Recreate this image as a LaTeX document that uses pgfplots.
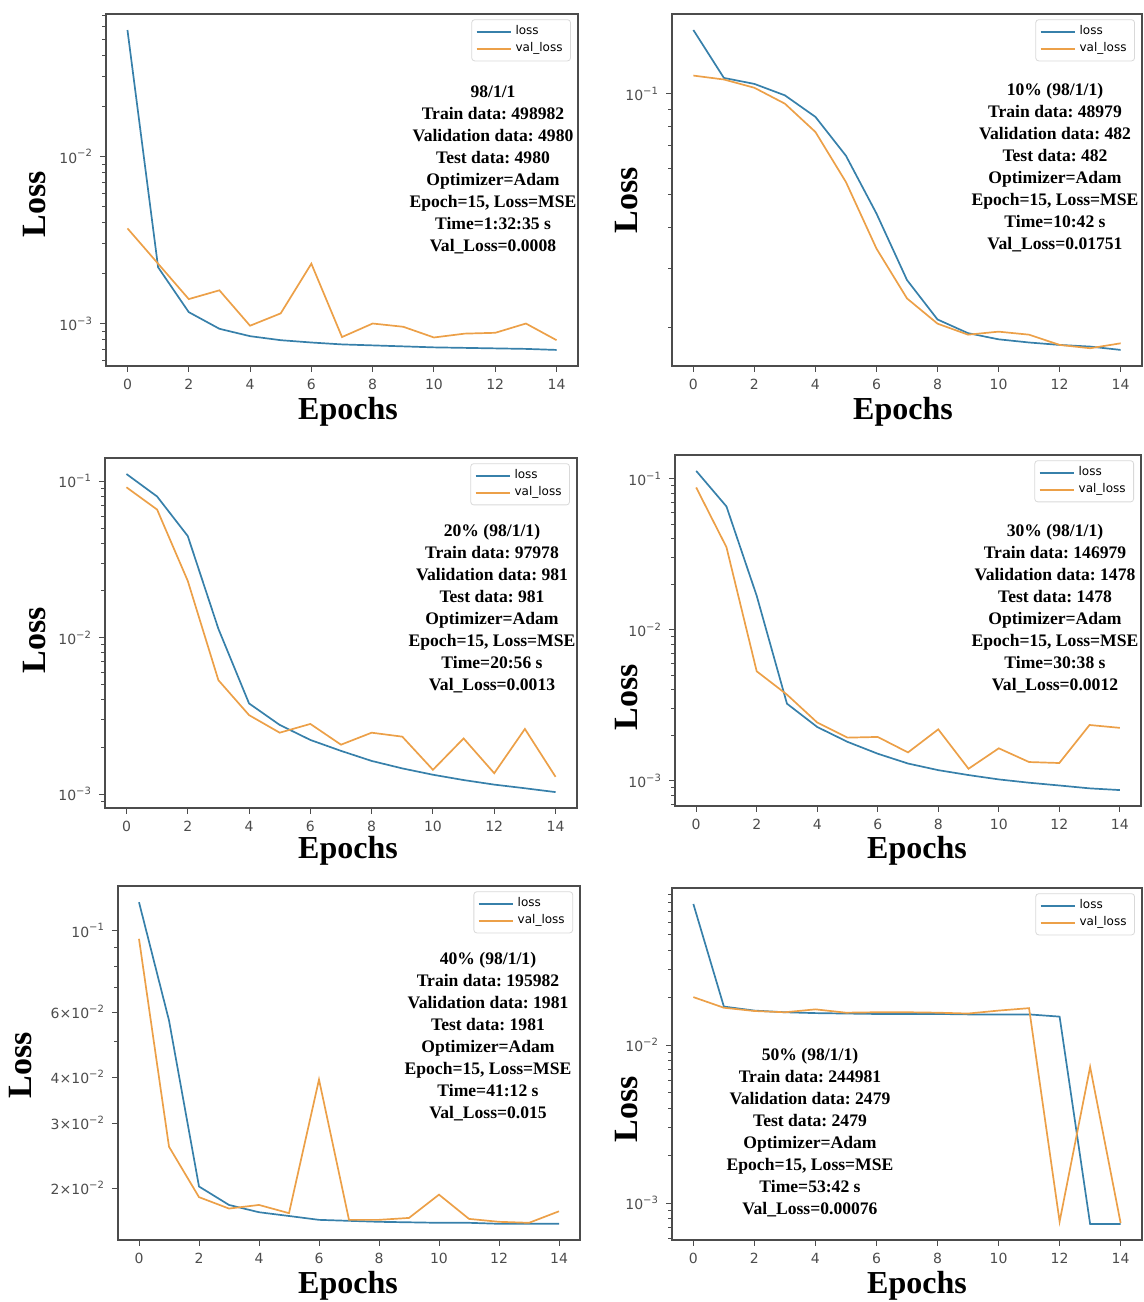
\documentclass[border=0pt]{standalone}
\usepackage{pgfplots}
\pgfplotsset{compat=1.18}
\usepackage{fontspec}
\setmainfont{Liberation Serif}
\newfontfamily\dejavu{DejaVu Sans}
\definecolor{cblue}{RGB}{55,128,170}
\definecolor{corange}{RGB}{236,160,72}
\frenchspacing

\pgfplotsset{
 lossax/.style={
   scale only axis, xmin=-0.7, xmax=14.7,
   xtick={0,2,...,14}, xticklabels={0,2,4,6,8,10,12,14},
   tick align=outside, tick pos=left,
   axis line style={black!70, line width=0.6pt},
   major tick length=3pt, minor tick length=1.8pt,
   every tick/.style={black!70, line width=0.5pt},
   tick label style={font=\dejavu\fontsize{7}{8}\selectfont, text=black!70},
   legend style={at={(0.985,0.985)}, anchor=north east, draw=black!15, rounded corners=1.5pt,
     font=\dejavu\fontsize{6}{7}\selectfont, inner xsep=2pt, inner ysep=1pt, row sep=-1.5pt,
     cells={anchor=west}},
   every axis plot/.append style={line width=0.85pt},
 },
}
\tikzset{
 anno/.style={align=center, font=\bfseries\fontsize{8.8}{11}\selectfont, inner sep=0pt},
 lab/.style={font=\bfseries\fontsize{16}{16}\selectfont, inner sep=0pt},
 ylab/.style={font=\bfseries\fontsize{17}{17}\selectfont, inner sep=0pt, rotate=90},
}

\begin{document}
\begin{tikzpicture}[x=0.5pt,y=0.5pt]
\useasboundingbox (0,0) rectangle (1144,1302);

% ---------- Panel 1 ----------
\begin{semilogyaxis}[lossax, at={(53pt,468pt)}, anchor=south west, width=236pt, height=176pt,
  ymin=5.57e-4, ymax=0.0711,
  ytick={1e-3,1e-2}, yticklabels={10\textsuperscript{−3},10\textsuperscript{−2}},
  minor ytick={6e-4,7e-4,8e-4,9e-4,2e-3,3e-3,4e-3,5e-3,6e-3,7e-3,8e-3,9e-3,2e-2,3e-2,4e-2,5e-2,6e-2,7e-2}]
\addplot[cblue, no markers] coordinates {(0,0.057)(1,0.00217)(2,0.00117)(3,0.00093)(4,0.00084)(5,0.000795)(6,0.00077)(7,0.00075)(8,0.00074)(9,0.00073)(10,0.00072)(11,0.000715)(12,0.00071)(13,0.000705)(14,0.000695)};
\addplot[corange, no markers] coordinates {(0,0.00371)(1,0.00228)(2,0.0014)(3,0.00158)(4,0.00097)(5,0.00115)(6,0.00228)(7,0.00083)(8,0.001)(9,0.000956)(10,0.000825)(11,0.00087)(12,0.00088)(13,0.001)(14,0.000795)};
\legend{loss,val\_loss}
\end{semilogyaxis}
\node[anno, anchor=north] at (493,1217) {98/1/1\\Train data: 498982\\Validation data: 4980\\Test data: 4980\\Optimizer=Adam\\Epoch=15, Loss=MSE\\Time=1:32:35 s\\Val\_Loss=0.0008};
\node[ylab] at (35,1098) {Loss};
\node[lab] at (348,890) {Epochs};

% ---------- Panel 2 ----------
\begin{semilogyaxis}[lossax, at={(336pt,468pt)}, anchor=south west, width=235pt, height=176pt,
  ymin=0.0154, ymax=0.173,
  ytick={0.1}, yticklabels={10\textsuperscript{−1}},
  minor ytick={0.02,0.03,0.04,0.05,0.06,0.07,0.08,0.09}]
\addplot[cblue, no markers] coordinates {(0,0.155)(1,0.1115)(2,0.107)(3,0.0989)(4,0.0853)(5,0.0653)(6,0.0439)(7,0.0278)(8,0.0212)(9,0.0193)(10,0.0185)(11,0.0181)(12,0.0178)(13,0.0176)(14,0.0172)};
\addplot[corange, no markers] coordinates {(0,0.1133)(1,0.1103)(2,0.1042)(3,0.0934)(4,0.0769)(5,0.0545)(6,0.0345)(7,0.0245)(8,0.0206)(9,0.0191)(10,0.0195)(11,0.0191)(12,0.0178)(13,0.0174)(14,0.018)};
\legend{loss,val\_loss}
\end{semilogyaxis}
\node[anno, anchor=north] at (1055,1219) {10\% (98/1/1)\\Train data: 48979\\Validation data: 482\\Test data: 482\\Optimizer=Adam\\Epoch=15, Loss=MSE\\Time=10:42 s\\Val\_Loss=0.01751};
\node[ylab] at (627,1102) {Loss};
\node[lab] at (903,890) {Epochs};

% ---------- Panel 3 ----------
\begin{semilogyaxis}[lossax, at={(52.5pt,247pt)}, anchor=south west, width=236pt, height=175pt,
  ymin=8.15e-4, ymax=0.141,
  ytick={1e-3,1e-2,1e-1}, yticklabels={10\textsuperscript{−3},10\textsuperscript{−2},10\textsuperscript{−1}},
  minor ytick={9e-4,2e-3,3e-3,4e-3,5e-3,6e-3,7e-3,8e-3,9e-3,2e-2,3e-2,4e-2,5e-2,6e-2,7e-2,8e-2,9e-2}]
\addplot[cblue, no markers] coordinates {(0,0.1114)(1,0.080)(2,0.0447)(3,0.0114)(4,0.0038)(5,0.00277)(6,0.00222)(7,0.00189)(8,0.00163)(9,0.00146)(10,0.00133)(11,0.00123)(12,0.00115)(13,0.00109)(14,0.00103)};
\addplot[corange, no markers] coordinates {(0,0.0916)(1,0.066)(2,0.0231)(3,0.00535)(4,0.0032)(5,0.00247)(6,0.00281)(7,0.00207)(8,0.00247)(9,0.00233)(10,0.00143)(11,0.00227)(12,0.00136)(13,0.00261)(14,0.00129)};
\legend{loss,val\_loss}
\end{semilogyaxis}
\node[anno, anchor=north] at (492,778) {20\% (98/1/1)\\Train data: 97978\\Validation data: 981\\Test data: 981\\Optimizer=Adam\\Epoch=15, Loss=MSE\\Time=20:56 s\\Val\_Loss=0.0013};
\node[ylab] at (35,662) {Loss};
\node[lab] at (348,451) {Epochs};

% ---------- Panel 4 ----------
\begin{semilogyaxis}[lossax, at={(337.5pt,248pt)}, anchor=south west, width=233pt, height=175.5pt,
  ymin=6.8e-4, ymax=0.144,
  ytick={1e-3,1e-2,1e-1}, yticklabels={10\textsuperscript{−3},10\textsuperscript{−2},10\textsuperscript{−1}},
  minor ytick={7e-4,8e-4,9e-4,2e-3,3e-3,4e-3,5e-3,6e-3,7e-3,8e-3,9e-3,2e-2,3e-2,4e-2,5e-2,6e-2,7e-2,8e-2,9e-2}]
\addplot[cblue, no markers] coordinates {(0,0.113)(1,0.0657)(2,0.0168)(3,0.00324)(4,0.00227)(5,0.00181)(6,0.00151)(7,0.0013)(8,0.001175)(9,0.00109)(10,0.00102)(11,0.00097)(12,0.00093)(13,0.00089)(14,0.000867)};
\addplot[corange, no markers] coordinates {(0,0.0877)(1,0.0353)(2,0.00531)(3,0.00372)(4,0.00243)(5,0.00193)(6,0.00195)(7,0.00154)(8,0.00219)(9,0.0012)(10,0.00164)(11,0.00133)(12,0.00131)(13,0.00234)(14,0.00224)};
\legend{loss,val\_loss}
\end{semilogyaxis}
\node[anno, anchor=north] at (1055,778) {30\% (98/1/1)\\Train data: 146979\\Validation data: 1478\\Test data: 1478\\Optimizer=Adam\\Epoch=15, Loss=MSE\\Time=30:38 s\\Val\_Loss=0.0012};
\node[ylab] at (627,605) {Loss};
\node[lab] at (917,451) {Epochs};

% ---------- Panel 5 ----------
\begin{semilogyaxis}[lossax, at={(59pt,31pt)}, anchor=south west, width=231pt, height=177pt,
  ymin=0.01446, ymax=0.132,
  ytick={0.02,0.03,0.04,0.06,0.1},
  yticklabels={2×10\textsuperscript{−2},3×10\textsuperscript{−2},4×10\textsuperscript{−2},6×10\textsuperscript{−2},10\textsuperscript{−1}},
  minor ytick={0.05,0.07,0.08,0.09}]
\addplot[cblue, no markers] coordinates {(0,0.1193)(1,0.057)(2,0.0202)(3,0.018)(4,0.0172)(5,0.0168)(6,0.0164)(7,0.0163)(8,0.0162)(9,0.01615)(10,0.0161)(11,0.0161)(12,0.016)(13,0.016)(14,0.016)};
\addplot[corange, no markers] coordinates {(0,0.0949)(1,0.0259)(2,0.0189)(3,0.0176)(4,0.018)(5,0.0171)(6,0.0394)(7,0.0164)(8,0.0164)(9,0.0166)(10,0.0192)(11,0.0165)(12,0.0162)(13,0.0161)(14,0.0173)};
\legend{loss,val\_loss}
\end{semilogyaxis}
\node[anno, anchor=north] at (488,350) {40\% (98/1/1)\\Train data: 195982\\Validation data: 1981\\Test data: 1981\\Optimizer=Adam\\Epoch=15, Loss=MSE\\Time=41:12 s\\Val\_Loss=0.015};
\node[ylab] at (21,237) {Loss};
\node[lab] at (348,16) {Epochs};

% ---------- Panel 6 ----------
\begin{semilogyaxis}[lossax, at={(336pt,31pt)}, anchor=south west, width=235pt, height=176pt,
  ymin=5.86e-4, ymax=0.0991,
  ytick={1e-3,1e-2}, yticklabels={10\textsuperscript{−3},10\textsuperscript{−2}},
  minor ytick={6e-4,7e-4,8e-4,9e-4,2e-3,3e-3,4e-3,5e-3,6e-3,7e-3,8e-3,9e-3,2e-2,3e-2,4e-2,5e-2,6e-2,7e-2,8e-2,9e-2}]
\addplot[cblue, no markers] coordinates {(0,0.0785)(1,0.0176)(2,0.0166)(3,0.0162)(4,0.016)(5,0.0159)(6,0.0158)(7,0.0158)(8,0.0158)(9,0.0157)(10,0.0157)(11,0.0157)(12,0.0152)(13,0.00074)(14,0.00074)};
\addplot[corange, no markers] coordinates {(0,0.0202)(1,0.0173)(2,0.0165)(3,0.0162)(4,0.0169)(5,0.0161)(6,0.0162)(7,0.0162)(8,0.0161)(9,0.0159)(10,0.0166)(11,0.0172)(12,0.000766)(13,0.0073)(14,0.00075)};
\legend{loss,val\_loss}
\end{semilogyaxis}
\node[anno, anchor=north] at (810,254) {50\% (98/1/1)\\Train data: 244981\\Validation data: 2479\\Test data: 2479\\Optimizer=Adam\\Epoch=15, Loss=MSE\\Time=53:42 s\\Val\_Loss=0.00076};
\node[ylab] at (627,193) {Loss};
\node[lab] at (917,16) {Epochs};
\end{tikzpicture}
\end{document}
